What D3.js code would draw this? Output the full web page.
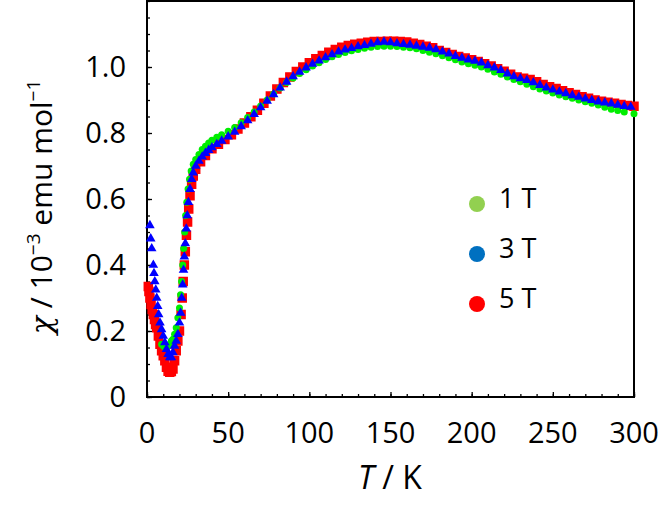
<!DOCTYPE html>
<html>
<head>
<meta charset="utf-8">
<script src="https://cdn.jsdelivr.net/npm/d3@7"></script>
<style>
  body { margin: 0; background: #fff; }
  svg text { font-family: "Open Sans", "Lato", sans-serif; fill: #000; }
</style>
</head>
<body>
<div id="root"></div>
<script>
// 5 T (red squares)
const t5 = [0.8, 1.2, 1.8, 2.5, 3.2, 3.9, 4.6, 5.3, 6, 7, 8, 9, 10, 11, 12, 13, 14, 15, 16, 17, 18, 19, 20, 21, 21.7, 22.3, 23, 23.6, 24.3, 25, 25.7, 26.5, 27.5, 28.5, 30, 33, 36, 40, 44, 48, 52, 56, 60, 64, 68, 72, 76, 80, 84, 88, 92, 96, 100, 104, 108, 112, 116, 120, 124, 128, 132, 136, 140, 144, 148, 152, 156, 160, 164, 168, 172, 176, 180, 184, 188, 192, 196, 200, 204, 208, 212, 216, 220, 224, 228, 232, 236, 240, 244, 248, 252, 256, 260, 264, 268, 272, 276, 280, 284, 288, 292, 296, 300];
const chi5 = [0.335, 0.32, 0.30, 0.28, 0.265, 0.25, 0.235, 0.22, 0.21, 0.185, 0.16, 0.14, 0.125, 0.11, 0.09, 0.078, 0.075, 0.077, 0.085, 0.11, 0.14, 0.17, 0.20, 0.25, 0.30, 0.35, 0.40, 0.44, 0.49, 0.53, 0.57, 0.61, 0.645, 0.67, 0.69, 0.713, 0.732, 0.752, 0.766, 0.78, 0.795, 0.812, 0.83, 0.849, 0.869, 0.89, 0.912, 0.933, 0.953, 0.97, 0.986, 1.0, 1.013, 1.025, 1.035, 1.045, 1.053, 1.06, 1.065, 1.069, 1.072, 1.075, 1.077, 1.077, 1.078, 1.078, 1.077, 1.076, 1.072, 1.068, 1.063, 1.058, 1.05, 1.044, 1.038, 1.032, 1.027, 1.022, 1.017, 1.01, 1.003, 0.995, 0.987, 0.978, 0.97, 0.966, 0.962, 0.955, 0.947, 0.94, 0.935, 0.928, 0.922, 0.917, 0.91, 0.905, 0.9, 0.896, 0.893, 0.89, 0.886, 0.883, 0.881];

// 1 T (green circles)
const t1 = [9, 10, 11, 12, 13, 14, 15, 16, 17, 18, 19, 20, 20.7, 21.3, 22, 22.6, 23.2, 23.8, 24.5, 25.3, 26.2, 27.2, 28.5, 30, 32, 34, 36, 38, 40, 43, 46, 50, 54, 58, 62, 66, 70, 74, 78, 82, 86, 90, 94, 98, 102, 106, 110, 114, 118, 122, 126, 130, 134, 138, 142, 146, 150, 154, 158, 162, 166, 170, 174, 178, 182, 186, 190, 194, 198, 202, 206, 210, 214, 218, 222, 226, 230, 234, 238, 242, 246, 250, 254, 258, 262, 266, 270, 274, 278, 282, 286, 290, 294, 300];
const chi1 = [0.16, 0.155, 0.15, 0.15, 0.155, 0.16, 0.17, 0.175, 0.19, 0.21, 0.24, 0.27, 0.31, 0.35, 0.40, 0.45, 0.50, 0.55, 0.59, 0.63, 0.66, 0.685, 0.705, 0.72, 0.735, 0.75, 0.76, 0.77, 0.778, 0.787, 0.795, 0.805, 0.817, 0.831, 0.847, 0.864, 0.882, 0.9, 0.918, 0.936, 0.953, 0.967, 0.98, 0.992, 1.003, 1.013, 1.023, 1.031, 1.038, 1.044, 1.049, 1.053, 1.057, 1.06, 1.062, 1.063, 1.063, 1.062, 1.06, 1.058, 1.055, 1.05, 1.045, 1.04, 1.034, 1.028, 1.022, 1.015, 1.01, 1.005, 1.0, 0.993, 0.985, 0.978, 0.97, 0.962, 0.955, 0.948, 0.94, 0.933, 0.927, 0.921, 0.915, 0.91, 0.905, 0.9, 0.895, 0.89, 0.885, 0.878, 0.872, 0.868, 0.864, 0.858];

// 3 T (blue triangles)
const t3 = [1.8, 2.3, 2.9, 3.9, 4.3, 4.8, 5.4, 6.0, 6.6, 7.2, 8, 9, 10, 11, 12, 13, 14, 15, 16, 17, 18, 19, 20, 20.7, 21.4, 22, 22.5, 23, 23.6, 24.2, 24.8, 25.5, 26.5, 27.5, 28.5, 30, 32, 34, 36, 38, 40, 43, 46, 50, 54, 58, 62, 66, 70, 74, 78, 82, 86, 90, 94, 98, 102, 106, 110, 114, 118, 122, 126, 130, 134, 138, 142, 146, 150, 154, 158, 162, 166, 170, 174, 178, 182, 186, 190, 194, 198, 202, 206, 210, 214, 218, 222, 226, 230, 234, 238, 242, 246, 250, 254, 258, 262, 266, 270, 274, 278, 282, 286, 290, 294, 298];
const chi3 = [0.52, 0.48, 0.45, 0.40, 0.375, 0.35, 0.325, 0.30, 0.275, 0.25, 0.225, 0.205, 0.185, 0.165, 0.145, 0.13, 0.12, 0.12, 0.135, 0.155, 0.17, 0.19, 0.225, 0.255, 0.30, 0.34, 0.385, 0.425, 0.465, 0.51, 0.55, 0.59, 0.63, 0.66, 0.68, 0.70, 0.715, 0.728, 0.739, 0.748, 0.756, 0.766, 0.776, 0.789, 0.803, 0.82, 0.838, 0.857, 0.877, 0.897, 0.917, 0.937, 0.955, 0.971, 0.985, 0.998, 1.009, 1.019, 1.029, 1.038, 1.046, 1.052, 1.057, 1.062, 1.066, 1.07, 1.074, 1.076, 1.074, 1.071, 1.069, 1.067, 1.064, 1.061, 1.058, 1.053, 1.046, 1.04, 1.033, 1.027, 1.022, 1.018, 1.013, 1.005, 0.998, 0.99, 0.98, 0.971, 0.965, 0.96, 0.953, 0.945, 0.937, 0.931, 0.925, 0.92, 0.914, 0.909, 0.904, 0.899, 0.895, 0.892, 0.889, 0.885, 0.881, 0.879];

const xTicks = [0, 50, 100, 150, 200, 250, 300];
const yTicks = [0, 0.2, 0.4, 0.6, 0.8, 1.0];
const legendLabels = ["1 T", "3 T", "5 T"];
const legendColors = ["#92d050", "#0070c0", "#ff0000"];

const width = 663, height = 525;
const margin = { top: 1, right: 29, bottom: 128, left: 147 };

const xScale = d3.scaleLinear().domain([0, 300]).range([margin.left, width - margin.right]);
const yScale = d3.scaleLinear().domain([0, 1.2]).range([height - margin.bottom, margin.top]);

let svg = d3.select("#root").append("svg")
  .attr("width", width)
  .attr("height", height);

let plotH = yScale(0) - yScale(1.2);

// ticks inside the frame
let axes = svg.append("g").classed("axes", true);

let yMinor = d3.axisRight(yScale).tickValues(d3.range(0, 1.2001, 0.05)).tickSize(3).tickFormat("");
let yMajor = d3.axisRight(yScale).tickValues(yTicks).tickSize(5).tickFormat("");
let xMinor = d3.axisTop(xScale).tickValues(d3.range(0, 301, 10)).tickSize(3).tickFormat("");
let xMajor = d3.axisTop(xScale).tickValues(xTicks).tickSize(5).tickFormat("");

[yMinor, yMajor].forEach(a => {
  axes.append("g").attr("transform", `translate(${margin.left}, 0)`).call(a)
    .call(g => g.select(".domain").remove())
    .selectAll("line").attr("stroke-width", 1.3);
});
[xMinor, xMajor].forEach(a => {
  axes.append("g").attr("transform", `translate(0, ${yScale(0)})`).call(a)
    .call(g => g.select(".domain").remove())
    .selectAll("line").attr("stroke-width", 1.3);
});

// frame
svg.append("rect")
  .attr("x", xScale(0)).attr("y", yScale(1.2))
  .attr("width", xScale(300) - xScale(0)).attr("height", plotH)
  .attr("fill", "none").attr("stroke", "#000").attr("stroke-width", 2);

// tick labels
svg.selectAll(".xlab").data(xTicks).enter().append("text")
  .attr("x", d => xScale(d)).attr("y", yScale(0) + 46)
  .attr("text-anchor", "middle").attr("font-size", 29)
  .text(d => d);

svg.selectAll(".ylab").data(yTicks).enter().append("text")
  .attr("x", 126).attr("y", d => yScale(d) + 10)
  .attr("text-anchor", "end").attr("font-size", 29)
  .text(d => d === 0 ? "0" : d.toFixed(1));

// axis titles
let xt = svg.append("text").attr("x", 390).attr("y", 489)
  .attr("text-anchor", "middle").attr("font-size", 32);
xt.append("tspan").attr("font-style", "italic").text("T");
xt.append("tspan").text(" / K");

let yt = svg.append("text")
  .attr("transform", "translate(52, 207) rotate(-90)")
  .attr("text-anchor", "middle").attr("font-size", 30);
yt.append("tspan").attr("font-style", "italic").attr("font-family", "DejaVu Serif").text("χ");
yt.append("tspan").text(" / 10");
yt.append("tspan").attr("font-size", 19).attr("dy", -12).text("−3");
yt.append("tspan").attr("dy", 12).text(" emu mol");
yt.append("tspan").attr("font-size", 19).attr("dy", -12).text("−1");

// data
let plot = svg.append("g");

const red = t5.map((t, i) => ({ t: t, c: chi5[i] }));
const green = t1.map((t, i) => ({ t: t, c: chi1[i] }));
const blue = t3.map((t, i) => ({ t: t, c: chi3[i] }));

plot.selectAll(".sq").data(red).enter().append("path")
  .attr("d", d3.symbol(d3.symbolSquare, 64))
  .attr("transform", d => `translate(${xScale(d.t)}, ${yScale(d.c)})`)
  .attr("fill", "#ff0000").attr("stroke", "#ff0000").attr("stroke-width", 1.5);

plot.selectAll(".ci").data(green).enter().append("circle")
  .attr("cx", d => xScale(d.t)).attr("cy", d => yScale(d.c))
  .attr("r", 3.5).attr("fill", "#00ee00");

plot.selectAll(".tr").data(blue).enter().append("path")
  .attr("d", d3.symbol(d3.symbolTriangle, 40))
  .attr("transform", d => `translate(${xScale(d.t)}, ${yScale(d.c)})`)
  .attr("fill", "#0000ff");

// legend
let legend = svg.append("g");
legendLabels.forEach((lab, i) => {
  legend.append("circle").attr("cx", 477).attr("cy", 204 + i * 50)
    .attr("r", 8).attr("fill", legendColors[i]);
  legend.append("text").attr("x", 499).attr("y", 212 + i * 50 - 4)
    .attr("font-size", 27).text(lab);
});
</script>
</body>
</html>
